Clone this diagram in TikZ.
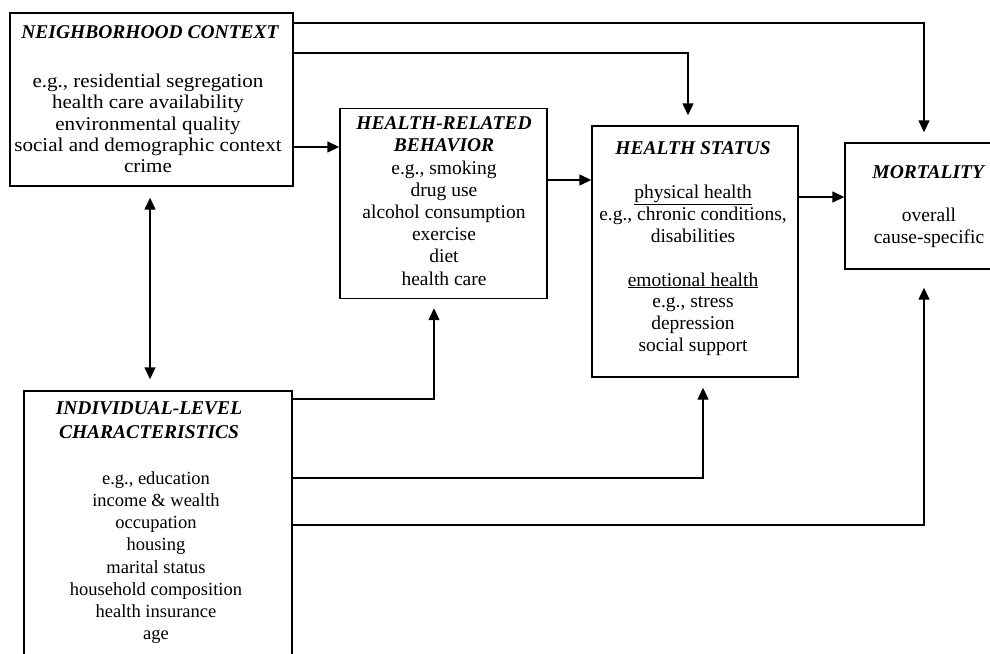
\documentclass[tikz,border=0pt]{standalone}
\usepackage{fontspec}
\setmainfont{Liberation Serif}
\newfontfamily\widefont{Liberation Serif}[FakeStretch=1.08]
\usetikzlibrary{arrows.meta}
\begin{document}
\begin{tikzpicture}[x=1pt,y=-1pt,
  box/.style={draw, line width=1.4pt, inner sep=0pt},
  hd/.style={inner sep=0pt, anchor=base, font=\fontsize{19.5}{22}\selectfont\bfseries\itshape},
  lbl/.style={align=center, inner sep=0pt, anchor=north, font=\fontsize{19.5}{22.2}\selectfont},
  conn/.style={line width=1.4pt},
  arr/.style={conn, -{Triangle[length=12pt,width=11pt]}},
  darr/.style={conn, {Triangle[length=12pt,width=11pt]}-{Triangle[length=12pt,width=11pt]}},
]
\useasboundingbox (0,0) rectangle (990,653);
\clip (0,0) rectangle (990,653);
% boxes
\node[box, minimum width=283pt, minimum height=173pt] (nb) at (151.5,99.5) {};
\node[box, minimum width=207pt, minimum height=190pt] (hb) at (443.5,203.5) {};
\node[box, minimum width=206pt, minimum height=251pt] (hs) at (695,251.5) {};
\node[box, minimum width=158pt, minimum height=126pt] (mo) at (924,206) {};
\node[box, minimum width=268pt, minimum height=289pt] (il) at (158,535.5) {};
% texts
\node[hd] (nbh) at (150,38.5) {NEIGHBORHOOD CONTEXT};
\node[lbl, font=\widefont\fontsize{19.5}{21.3}\selectfont] (nbb) at (148,72.5) {\strut e.g., residential segregation\\ health care availability\\ environmental quality\\ social and demographic context\\ crime};
\node[lbl] (hbt) at (444,113.9) {\strut\textbf{\textit{HEALTH-RELATED}}\\ \textbf{\textit{BEHAVIOR}}\\ e.g., smoking\\ drug use\\ alcohol consumption\\ exercise\\ diet\\ health care};
\node[lbl, font=\fontsize{19.5}{21.9}\selectfont] (hst) at (693,139.1) {\strut\textbf{\textit{HEALTH STATUS}}\\[21.9pt] \underline{physical health}\\ e.g., chronic conditions,\\ disabilities\\[21.9pt] \underline{emotional health}\\ e.g., stress\\ depression\\ social support};
\node[lbl, font=\fontsize{19.5}{21.5}\selectfont] (mot) at (929,163.4) {\strut\textbf{\textit{MORTALITY}}\\[21.5pt] overall\\ cause-specific};
\node[lbl, font=\fontsize{19.5}{23.5}\selectfont\bfseries\itshape] (ilh) at (149,397.95) {\strut INDIVIDUAL-LEVEL\\ CHARACTERISTICS};
\node[lbl, font=\fontsize{18.5}{22.1}\selectfont] (ilb) at (156,469) {\strut e.g., education\\ income \& wealth\\ occupation\\ housing\\ marital status\\ household composition\\ health insurance\\ age};
% routing coordinates
\coordinate (t1) at (924,23);
\coordinate (t2) at (688,53);
\coordinate (m1) at (0,147);
\coordinate (m2) at (0,180);
\coordinate (m3) at (0,197);
\coordinate (d1) at (150,0);
\coordinate (b1) at (434,399);
\coordinate (b2) at (703,478);
\coordinate (b3) at (924,525);
% connectors
\draw[arr, shorten >=10pt] (nb.east |- t1) -| (mo.north);
\draw[arr, shorten >=10pt] (nb.east |- t2) -| (hs.north -| t2);
\draw[arr] (nb.east |- m1) -- (hb.west |- m1);
\draw[arr] (hb.east |- m2) -- (hs.west |- m2);
\draw[arr] (hs.east |- m3) -- (mo.west |- m3);
\draw[darr, shorten <=11pt, shorten >=11pt] (nb.south -| d1) -- (il.north -| d1);
\draw[arr, shorten >=9pt] (il.east |- b1) -| (hb.south -| b1);
\draw[arr, shorten >=10pt] (il.east |- b2) -| (hs.south -| b2);
\draw[arr, shorten >=18pt] (il.east |- b3) -| (mo.south);
\end{tikzpicture}
\end{document}
